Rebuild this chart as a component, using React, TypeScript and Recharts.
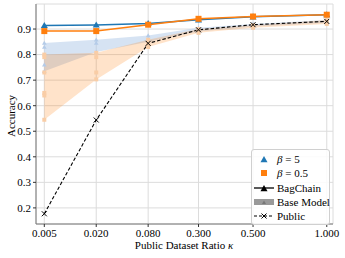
import {
  Area,
  CartesianGrid,
  ComposedChart,
  Label,
  Line,
  Scatter,
  XAxis,
  YAxis,
} from 'recharts';

const ratioLabels = ['0.005', '0.020', '0.080', '0.300', '0.500', '1.000'];
const ratioPos = [0, 1, 2, 2.97, 4.02, 5.44];

const bagChainB5 = [0.914, 0.916, 0.922, 0.936, 0.948, 0.956];
const bagChainB05 = [0.892, 0.892, 0.917, 0.94, 0.949, 0.956];
const publicAcc = [0.177, 0.544, 0.844, 0.897, 0.917, 0.93];

// individual base models per ratio
const baseB5 = [
  [0.845, 0.83, 0.76, 0.735],
  [0.858, 0.845, 0.81],
  [0.875, 0.86, 0.85],
  [0.905, 0.89],
  [0.92, 0.91],
  [0.935, 0.925],
];
const baseB05 = [
  [0.8, 0.79, 0.73, 0.65, 0.64, 0.545],
  [0.807, 0.79, 0.73, 0.703],
  [0.858, 0.845, 0.83],
  [0.9, 0.885],
  [0.915, 0.905],
  [0.935, 0.92],
];

const yTicks = [0.2, 0.3, 0.4, 0.5, 0.6, 0.7, 0.8, 0.9];

const BLUE = '#1f77b4';
const ORANGE = '#ff7f0e';
const FONT = '"Liberation Serif", "DejaVu Serif", serif';

const rows = ratioPos.map((pos, i) => ({
  pos,
  b5: bagChainB5[i],
  b05: bagChainB05[i],
  pub: publicAcc[i],
  bandB5: [Math.min(...baseB5[i]), Math.max(...baseB5[i])],
  bandB05: [Math.min(...baseB05[i]), Math.max(...baseB05[i])],
}));

const pointsB5 = baseB5.flatMap((vals, i) => vals.map((y) => ({ pos: ratioPos[i], y })));
const pointsB05 = baseB05.flatMap((vals, i) => vals.map((y) => ({ pos: ratioPos[i], y })));

const Triangle = ({ cx, cy, fill, size = 4 }: any) =>
  cx == null ? null : (
    <polygon
      points={`${cx},${cy - size} ${cx - size},${cy + size * 0.75} ${cx + size},${cy + size * 0.75}`}
      fill={fill}
    />
  );

const Square = ({ cx, cy, fill, size = 3.2 }: any) =>
  cx == null ? null : (
    <rect x={cx - size} y={cy - size} width={size * 2} height={size * 2} fill={fill} />
  );

const Cross = ({ cx, cy }: any) =>
  cx == null ? null : (
    <path
      d={`M${cx - 2.5},${cy - 2.5}L${cx + 2.5},${cy + 2.5}M${cx - 2.5},${cy + 2.5}L${cx + 2.5},${cy - 2.5}`}
      stroke="#000"
      strokeWidth={1}
    />
  );

function ChartLegend() {
  const row = { display: 'flex', alignItems: 'center', height: 14.3, whiteSpace: 'nowrap' as const };
  const icon = { width: 20, height: 14, marginRight: 3, flex: 'none' };
  return (
    <div
      style={{
        position: 'absolute',
        left: 251,
        top: 149,
        width: 72,
        border: '1px solid #d0d0d0',
        borderRadius: 3,
        background: 'rgba(255,255,255,0.85)',
        padding: '2px 3px 1px 2px',
        fontFamily: FONT,
        fontSize: 11,
        lineHeight: '14px',
        color: '#000',
      }}
    >
      <div style={row}>
        <svg style={icon}>
          <Triangle cx={10} cy={7.5} fill={BLUE} size={3.5} />
        </svg>
        <span><i>β</i> = 5</span>
      </div>
      <div style={row}>
        <svg style={icon}>
          <Square cx={10} cy={7} fill={ORANGE} size={3} />
        </svg>
        <span><i>β</i> = 0.5</span>
      </div>
      <div style={row}>
        <svg style={icon}>
          <line x1={0} y1={7} x2={20} y2={7} stroke="#000" strokeWidth={1.3} />
          <Triangle cx={10} cy={7.5} fill="#000" size={3.5} />
        </svg>
        <span>BagChain</span>
      </div>
      <div style={row}>
        <svg style={icon}>
          <rect x={0} y={4} width={20} height={6} fill="#999" />
          <Triangle cx={10} cy={7.5} fill="#777" size={2} />
        </svg>
        <span>Base Model</span>
      </div>
      <div style={row}>
        <svg style={icon}>
          <line x1={0} y1={7} x2={20} y2={7} stroke="#000" strokeWidth={1.1} strokeDasharray="3 2" />
          <Cross cx={10} cy={7} />
        </svg>
        <span>Public</span>
      </div>
    </div>
  );
}

export default function App() {
  const tick = { fontSize: 11, fill: '#000', fontFamily: FONT };
  return (
    <div style={{ position: 'absolute', left: 0, top: 0, width: 345, height: 258, background: '#fff' }}>
      <ComposedChart
        width={345}
        height={258}
        data={rows}
        margin={{ top: 4, right: 12, bottom: 0, left: 0 }}
      >
        <CartesianGrid stroke="#dcdcdc" strokeWidth={1} />
        <XAxis
          dataKey="pos"
          type="number"
          domain={[-0.16, 5.56]}
          ticks={ratioPos}
          interval={0}
          tickFormatter={(v) => ratioLabels[ratioPos.indexOf(v)] ?? ''}
          tick={tick}
          tickSize={3}
          height={34}
          stroke="#777"
          tickLine={{ stroke: '#333' }}
          allowDataOverflow
        >
          <Label
            content={() => (
              <text x={184} y={249} textAnchor="middle" fontSize={11} fontFamily={FONT} fill="#000">
                Public Dataset Ratio <tspan fontStyle="italic">κ</tspan>
              </text>
            )}
          />
        </XAxis>
        <XAxis xAxisId="top" orientation="top" height={0} tick={false} tickLine={false} stroke="#777" />
        <YAxis
          type="number"
          domain={[0.137, 0.998]}
          ticks={yTicks}
          interval={0}
          tickFormatter={(v) => v.toFixed(1)}
          tick={tick}
          tickSize={3}
          width={36}
          stroke="#777"
          tickLine={{ stroke: '#333' }}
          allowDataOverflow
        >
          <Label
            content={() => (
              <text
                x={11}
                y={116}
                textAnchor="middle"
                fontSize={11}
                fontFamily={FONT}
                fill="#000"
                transform="rotate(-90 11 116)"
                dominantBaseline="central"
              >
                Accuracy
              </text>
            )}
          />
        </YAxis>
        <YAxis yAxisId="right" orientation="right" width={0} tick={false} tickLine={false} stroke="#777" />

        <Area
          dataKey="bandB5"
          type="linear"
          stroke="none"
          fill="#aec7e8"
          fillOpacity={0.5}
          isAnimationActive={false}
        />
        <Area
          dataKey="bandB05"
          type="linear"
          stroke="none"
          fill={ORANGE}
          fillOpacity={0.22}
          isAnimationActive={false}
        />
        <Scatter
          data={pointsB5}
          dataKey="y"
          fill="#aec7e8"
          shape={(p: any) => <Triangle {...p} fill="#b4cbe8" size={2.3} />}
          isAnimationActive={false}
        />
        <Scatter
          data={pointsB05}
          dataKey="y"
          fill={ORANGE}
          shape={(p: any) => <Square {...p} fill="#f9cda6" size={2} />}
          isAnimationActive={false}
        />
        <Line
          dataKey="pub"
          type="linear"
          stroke="#000"
          strokeWidth={1.1}
          strokeDasharray="3.5 2"
          dot={(p: any) => <Cross key={p.index} {...p} />}
          activeDot={false}
          isAnimationActive={false}
        />
        <Line
          dataKey="b5"
          type="linear"
          stroke={BLUE}
          strokeWidth={1.5}
          dot={(p: any) => <Triangle key={p.index} {...p} fill={BLUE} size={3.5} />}
          activeDot={false}
          isAnimationActive={false}
        />
        <Line
          dataKey="b05"
          type="linear"
          stroke={ORANGE}
          strokeWidth={1.5}
          dot={(p: any) => <Square key={p.index} {...p} fill={ORANGE} size={3} />}
          activeDot={false}
          isAnimationActive={false}
        />
      </ComposedChart>
      <ChartLegend />
    </div>
  );
}
